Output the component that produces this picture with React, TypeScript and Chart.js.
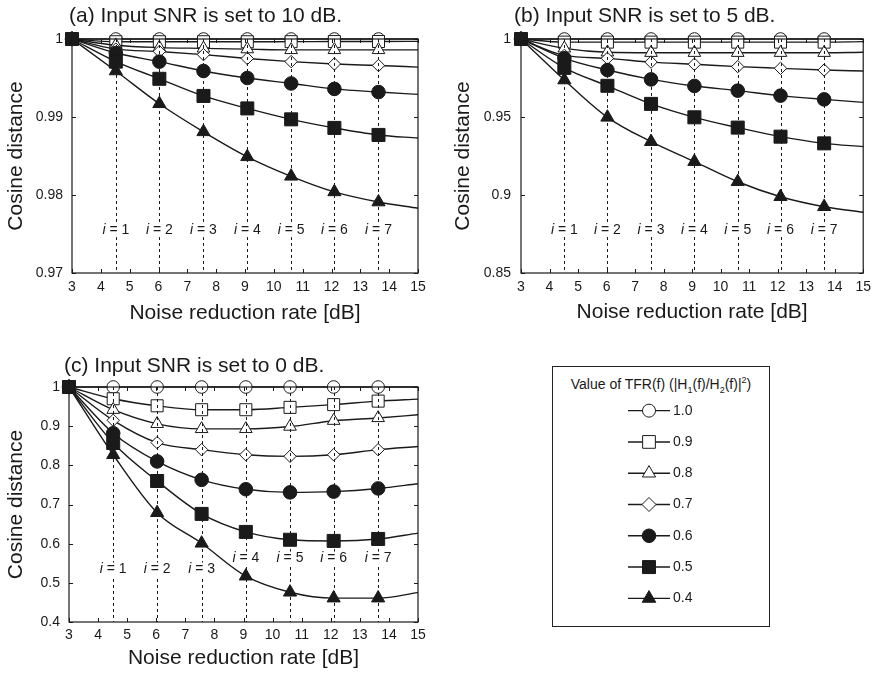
import React, { useEffect, useRef } from 'react';
import { Chart, registerables } from 'chart.js';

Chart.register(...registerables);

const FONT = "'Liberation Sans', Arial, Helvetica, sans-serif";
const INK = '#1a1a1a';
Chart.defaults.font.family = FONT;
Chart.defaults.color = INK;

// ---- data ----
const NOISE_REDUCTION = [3, 4.52, 6.03, 7.56, 9.08, 10.6, 12.1, 13.63, 15];
const STEP_NUMBERS = [1, 2, 3, 4, 5, 6, 7];
const TFR_VALUES = ['1.0', '0.9', '0.8', '0.7', '0.6', '0.5', '0.4'];

// (a) input SNR 10 dB
const SNR10_TFR10 = [1, 1, 1, 1, 1, 1, 1, 1, 1];
const SNR10_TFR09 = [1, 0.99965, 0.99965, 0.99965, 0.99965, 0.99966, 0.99967, 0.99968, 0.9997];
const SNR10_TFR08 = [1, 0.9992, 0.9989, 0.9988, 0.9987, 0.9986, 0.9986, 0.9986, 0.9986];
const SNR10_TFR07 = [1, 0.9987, 0.9984, 0.998, 0.9975, 0.9971, 0.9968, 0.9966, 0.9964];
const SNR10_TFR06 = [1, 0.9982, 0.9971, 0.9959, 0.995, 0.9943, 0.9936, 0.9932, 0.9929];
const SNR10_TFR05 = [1, 0.9971, 0.9949, 0.9927, 0.9911, 0.9897, 0.9886, 0.9877, 0.9873];
const SNR10_TFR04 = [1, 0.9959, 0.9917, 0.9881, 0.9849, 0.9824, 0.9804, 0.9791, 0.9783];
const SNR10_LABEL_Y = [0.9755, 0.9755, 0.9755, 0.9755, 0.9755, 0.9755, 0.9755];

// (b) input SNR 5 dB
const SNR5_TFR10 = [1, 1, 1, 1, 1, 1, 1, 1, 1];
const SNR5_TFR09 = [1, 0.998, 0.998, 0.998, 0.998, 0.998, 0.998, 0.998, 0.9983];
const SNR5_TFR08 = [1, 0.994, 0.9915, 0.9912, 0.9912, 0.9912, 0.9912, 0.9912, 0.9915];
const SNR5_TFR07 = [1, 0.9895, 0.9876, 0.9852, 0.9838, 0.9823, 0.9812, 0.9801, 0.9795];
const SNR5_TFR06 = [1, 0.9876, 0.9801, 0.9741, 0.9699, 0.9669, 0.9637, 0.9613, 0.9594];
const SNR5_TFR05 = [1, 0.9815, 0.97, 0.9584, 0.9498, 0.9432, 0.9374, 0.9331, 0.931];
const SNR5_TFR04 = [1, 0.9737, 0.9498, 0.9342, 0.9214, 0.9085, 0.8989, 0.8925, 0.8889];
const SNR5_LABEL_Y = [0.8776, 0.8776, 0.8776, 0.8776, 0.8776, 0.8776, 0.8776];

// (c) input SNR 0 dB
const SNR0_TFR10 = [1, 1, 1, 1, 1, 1, 1, 1, 1];
const SNR0_TFR09 = [1, 0.97, 0.952, 0.942, 0.942, 0.948, 0.955, 0.964, 0.969];
const SNR0_TFR08 = [1, 0.942, 0.906, 0.893, 0.893, 0.899, 0.914, 0.921, 0.929];
const SNR0_TFR07 = [1, 0.915, 0.858, 0.84, 0.827, 0.823, 0.827, 0.84, 0.848];
const SNR0_TFR06 = [1, 0.882, 0.81, 0.763, 0.739, 0.731, 0.733, 0.741, 0.753];
const SNR0_TFR05 = [1, 0.857, 0.76, 0.676, 0.63, 0.61, 0.607, 0.612, 0.627];
const SNR0_TFR04 = [1, 0.827, 0.679, 0.601, 0.517, 0.476, 0.461, 0.461, 0.475];
const SNR0_LABEL_Y = [0.534, 0.534, 0.534, 0.562, 0.562, 0.562, 0.562];

// ---- styles ----
const MARKERS = [
  { style: 'circle', fill: '#ffffff', r: 6.3, lr: 6.5 },
  { style: 'rect', fill: '#ffffff', r: 8.5, lr: 9 },
  { style: 'triangle', fill: '#ffffff', r: 7.3, lr: 7.6 },
  { style: 'rectRot', fill: '#ffffff', r: 6.2, lr: 7 },
  { style: 'circle', fill: INK, r: 6.8, lr: 6.8 },
  { style: 'rect', fill: INK, r: 9.2, lr: 9.2 },
  { style: 'triangle', fill: INK, r: 7.6, lr: 7.8 },
];

const PANELS = [
  {
    key: 'a', title: '(a) Input SNR is set to 10 dB.', titleLeft: 69, titleTop: 4,
    left: 0, top: 0, width: 440, height: 330, padTop: 39, padRight: 22, yW: 72, xH: 57,
    yTitlePad: 4, xTitlePad: 4, yTickPad: 9, xTickPad: 6,
    yMin: 0.97, yMax: 1, yStep: 0.01,
    series: [SNR10_TFR10, SNR10_TFR09, SNR10_TFR08, SNR10_TFR07, SNR10_TFR06, SNR10_TFR05, SNR10_TFR04],
    labelY: SNR10_LABEL_Y,
  },
  {
    key: 'b', title: '(b) Input SNR is set to 5 dB.', titleLeft: 514, titleTop: 4,
    left: 440, top: 0, width: 437, height: 330, padTop: 39, padRight: 11, yW: 81, xH: 57,
    yTitlePad: 10.5, xTitlePad: 5.5, yTickPad: 10, xTickPad: 6,
    yMin: 0.85, yMax: 1, yStep: 0.05,
    series: [SNR5_TFR10, SNR5_TFR09, SNR5_TFR08, SNR5_TFR07, SNR5_TFR06, SNR5_TFR05, SNR5_TFR04],
    labelY: SNR5_LABEL_Y,
  },
  {
    key: 'c', title: '(c) Input SNR is set to 0 dB.', titleLeft: 64, titleTop: 354,
    left: 0, top: 330, width: 440, height: 346, padTop: 57, padRight: 22, yW: 69, xH: 54,
    yTitlePad: 4, xTitlePad: 5, yTickPad: 9, xTickPad: 5,
    yMin: 0.4, yMax: 1, yStep: 0.1,
    series: [SNR0_TFR10, SNR0_TFR09, SNR0_TFR08, SNR0_TFR07, SNR0_TFR06, SNR0_TFR05, SNR0_TFR04],
    labelY: SNR0_LABEL_Y,
  },
];

function decorPlugin(labelY: number[]) {
  return {
    id: 'panelDecor',
    afterDatasetsDraw(chart: any) {
      const { ctx, chartArea: ca } = chart;
      const xs = chart.scales.x;
      const ys = chart.scales.y;
      ctx.save();
      // dashed guide lines
      ctx.strokeStyle = INK;
      ctx.lineWidth = 1;
      ctx.setLineDash([3, 3]);
      NOISE_REDUCTION.slice(1, 8).forEach((xv) => {
        const px = Math.round(xs.getPixelForValue(xv)) + 0.5;
        ctx.beginPath();
        ctx.moveTo(px, ca.top);
        ctx.lineTo(px, ca.bottom);
        ctx.stroke();
      });
      ctx.setLineDash([]);
      // i = k labels
      ctx.textBaseline = 'middle';
      ctx.textAlign = 'left';
      STEP_NUMBERS.forEach((n, k) => {
        const px = xs.getPixelForValue(NOISE_REDUCTION[k + 1]);
        const py = ys.getPixelForValue(labelY[k]);
        ctx.font = `italic 14px ${FONT}`;
        const wi = ctx.measureText('i').width;
        const rest = ` = ${n}`;
        ctx.font = `14px ${FONT}`;
        const wr = ctx.measureText(rest).width;
        const total = wi + wr;
        const x0 = px - total / 2;
        ctx.fillStyle = '#ffffff';
        ctx.fillRect(x0 - 1, py - 7, total + 2, 14);
        ctx.fillStyle = INK;
        ctx.font = `italic 14px ${FONT}`;
        ctx.fillText('i', x0, py);
        ctx.font = `14px ${FONT}`;
        ctx.fillText(rest, x0 + wi, py);
      });
      // frame
      ctx.strokeStyle = INK;
      ctx.lineWidth = 1.2;
      ctx.strokeRect(ca.left, ca.top, ca.right - ca.left, ca.bottom - ca.top);
      // inner tick marks
      ctx.lineWidth = 1;
      const tl = 4;
      const seg = (x1: number, y1: number, x2: number, y2: number) => {
        ctx.beginPath();
        ctx.moveTo(x1, y1);
        ctx.lineTo(x2, y2);
        ctx.stroke();
      };
      xs.ticks.forEach((t: any) => {
        const px = Math.round(xs.getPixelForValue(t.value)) + 0.5;
        seg(px, ca.bottom, px, ca.bottom - tl);
        seg(px, ca.top, px, ca.top + tl);
      });
      ys.ticks.forEach((t: any) => {
        const py = Math.round(ys.getPixelForValue(t.value)) + 0.5;
        seg(ca.left, py, ca.left + tl, py);
        seg(ca.right, py, ca.right - tl, py);
      });
      ctx.restore();
    },
  };
}

function panelConfig(p: any): any {
  return {
    type: 'line',
    data: {
      datasets: p.series.map((vals: number[], k: number) => ({
        label: TFR_VALUES[k],
        data: NOISE_REDUCTION.map((x, j) => ({ x, y: vals[j] })),
        borderColor: INK,
        borderWidth: 1.4,
        fill: false,
        pointStyle: MARKERS[k].style,
        pointRadius: NOISE_REDUCTION.map((_, j) => (j === NOISE_REDUCTION.length - 1 ? 0 : MARKERS[k].r)),
        pointHoverRadius: 0,
        pointBackgroundColor: MARKERS[k].fill,
        pointBorderColor: INK,
        pointBorderWidth: 1,
        cubicInterpolationMode: 'monotone',
        clip: false,
        order: p.series.length - 1 - k,
      })),
    },
    options: {
      animation: false,
      responsive: false,
      maintainAspectRatio: false,
      events: [],
      layout: { padding: { left: 0, right: p.padRight, top: p.padTop, bottom: 0 } },
      plugins: { legend: { display: false }, tooltip: { enabled: false }, title: { display: false } },
      scales: {
        x: {
          type: 'linear', min: 3, max: 15,
          grid: { display: false, drawTicks: false }, border: { display: false },
          ticks: { stepSize: 1, padding: p.xTickPad, maxRotation: 0, autoSkip: false, font: { size: 14 }, color: INK },
          title: { display: true, text: 'Noise reduction rate [dB]', font: { size: 21 }, color: INK, padding: { top: 0, bottom: p.xTitlePad } },
          afterFit: (s: any) => { s.height = p.xH; },
        },
        y: {
          type: 'linear', min: p.yMin, max: p.yMax,
          grid: { display: false, drawTicks: false }, border: { display: false },
          ticks: {
            stepSize: p.yStep, padding: p.yTickPad, font: { size: 14 }, color: INK,
            callback: (v: number) => String(Math.round(v * 100) / 100),
          },
          title: { display: true, text: 'Cosine distance', font: { size: 21 }, color: INK, padding: { top: p.yTitlePad, bottom: 0 } },
          afterFit: (s: any) => { s.width = p.yW; },
        },
      },
    },
    plugins: [decorPlugin(p.labelY)],
  };
}

function legendConfig(): any {
  return {
    type: 'line',
    data: {
      datasets: TFR_VALUES.map((lab, k) => ({
        label: lab,
        data: [{ x: 0, y: lab }, { x: 0.5, y: lab }, { x: 1, y: lab }],
        borderColor: INK,
        borderWidth: 1.4,
        fill: false,
        pointStyle: MARKERS[k].style,
        pointRadius: [0, MARKERS[k].lr, 0],
        pointHoverRadius: 0,
        pointBackgroundColor: MARKERS[k].fill,
        pointBorderColor: INK,
        pointBorderWidth: 1,
        clip: false,
      })),
    },
    options: {
      animation: false,
      responsive: false,
      maintainAspectRatio: false,
      events: [],
      layout: { padding: { left: 0, right: 0, top: 16, bottom: 16 } },
      plugins: { legend: { display: false }, tooltip: { enabled: false } },
      scales: {
        x: { type: 'linear', min: 0, max: 1, display: false },
        y: {
          type: 'category', labels: TFR_VALUES, offset: true, position: 'right',
          grid: { display: false, drawTicks: false }, border: { display: false },
          ticks: { padding: 3, font: { size: 14 }, color: INK },
          afterFit: (s: any) => { s.width = 40; },
        },
      },
    },
  };
}

function ChartCanvas(props: { left: number; top: number; width: number; height: number; make: () => any }) {
  const ref = useRef<HTMLCanvasElement>(null);
  useEffect(() => {
    const chart = new Chart(ref.current as HTMLCanvasElement, props.make());
    return () => chart.destroy();
  }, []);
  return (
    <canvas
      ref={ref}
      width={props.width}
      height={props.height}
      style={{ position: 'absolute', left: props.left, top: props.top, width: props.width, height: props.height, display: 'block' }}
    />
  );
}

const subStyle = { fontSize: 9, lineHeight: 0 };

export default function App() {
  return (
    <div style={{ position: 'absolute', left: 0, top: 0, width: 877, height: 676, background: '#fff', overflow: 'hidden', fontFamily: FONT, color: INK }}>
      {PANELS.map((p) => (
        <React.Fragment key={p.key}>
          <ChartCanvas left={p.left} top={p.top} width={p.width} height={p.height} make={() => panelConfig(p)} />
          <div style={{ position: 'absolute', left: p.titleLeft, top: p.titleTop, fontSize: 21, lineHeight: '21px', whiteSpace: 'nowrap' }}>{p.title}</div>
        </React.Fragment>
      ))}
      <div style={{ position: 'absolute', left: 552, top: 366, width: 218, height: 261, border: '1.3px solid #222', boxSizing: 'border-box' }}>
        <div style={{ position: 'absolute', left: 0, right: 0, top: 9, textAlign: 'center', fontSize: 14, lineHeight: '16px', whiteSpace: 'nowrap' }}>
          Value of TFR(f) (|H<sub style={subStyle}>1</sub>(f)/H<sub style={subStyle}>2</sub>(f)|<sup style={subStyle}>2</sup>)
        </div>
      </div>
      <ChartCanvas left={628} top={379} width={82} height={251} make={legendConfig} />
    </div>
  );
}
